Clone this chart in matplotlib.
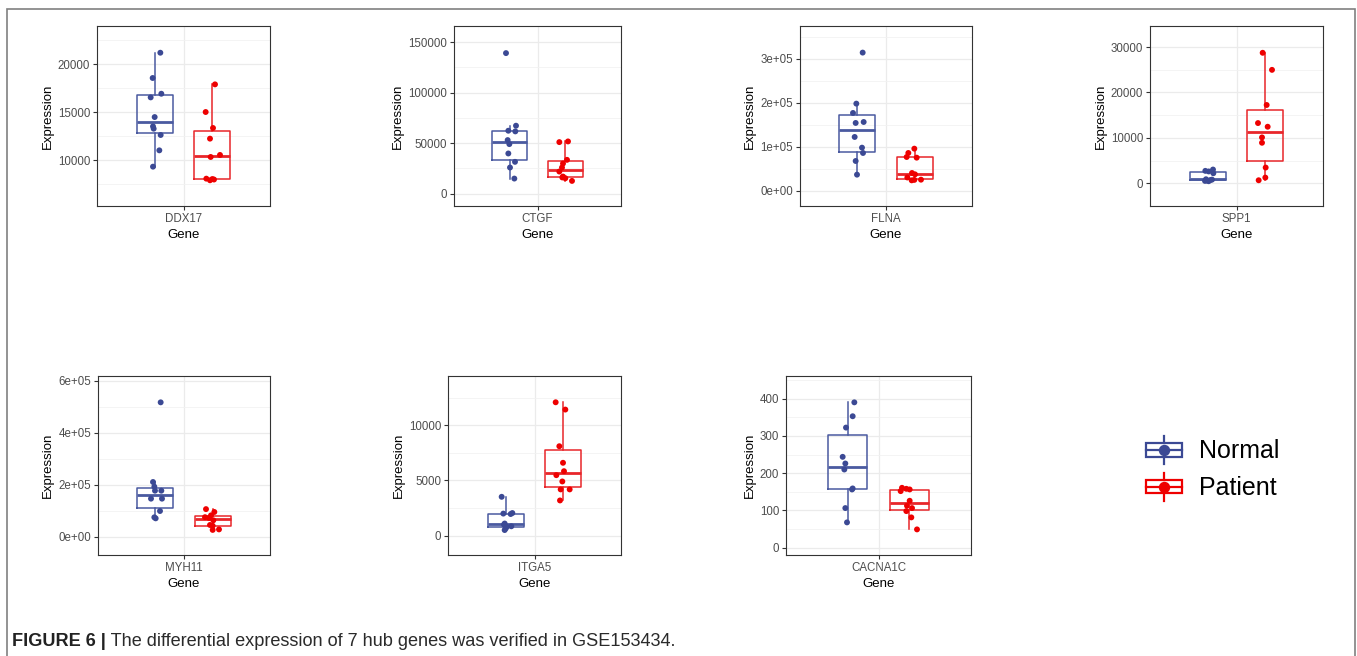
"""
Box plots of 7 hub genes (Normal vs Patient) in GSE153434
"""
import matplotlib
matplotlib.use('Agg')
import matplotlib.pyplot as plt
from matplotlib.patches import Rectangle, Patch
from matplotlib.lines import Line2D
from matplotlib.legend_handler import HandlerBase
from matplotlib.ticker import MultipleLocator, FuncFormatter

genes = ['DDX17', 'CTGF', 'FLNA', 'SPP1', 'MYH11', 'ITGA5', 'CACNA1C']

# expression values (one list per gene and group)
ddx17_normal = [21215, 18580, 16940, 16560, 14510, 13540, 13300, 12640, 11040, 9340]
ddx17_patient = [17917, 15035, 13370, 12260, 10560, 10350, 8090, 8000, 8050, 7920]
ctgf_normal = [139070, 67220, 62250, 61590, 52980, 49010, 39735, 31460, 25830, 14900]
ctgf_patient = [50990, 51660, 33440, 29800, 25830, 21850, 16890, 16000, 15230, 12580]
flna_normal = [313600, 197700, 176500, 153800, 156000, 122000, 97700, 85600, 67400, 36400]
flna_patient = [95450, 85600, 76500, 75000, 40150, 37100, 30000, 25000, 23500, 24500]
spp1_normal = [3020, 2730, 2600, 2210, 880, 800, 700, 600, 520, 450]
spp1_patient = [28740, 24980, 17240, 13260, 12450, 10100, 8920, 3460, 1250, 660]
myh11_normal = [516700, 210300, 192300, 176900, 176900, 146200, 146200, 98700, 74400, 70500]
myh11_patient = [106000, 95000, 82000, 75000, 72000, 63000, 45000, 42000, 28000, 26000]
itga5_normal = [3520, 2050, 2000, 1960, 1100, 1000, 850, 800, 650, 510]
itga5_patient = [12080, 11420, 8100, 6600, 5840, 5480, 4910, 4190, 4190, 3190]
cacna1c_normal = [390, 352.7, 322.3, 243.8, 225.9, 209.8, 159, 156.3, 106.3, 67.9]
cacna1c_patient = [160.7, 158, 156.3, 151.8, 125.9, 112.5, 106.3, 98.2, 81.3, 49.1]

normal = [ddx17_normal, ctgf_normal, flna_normal, spp1_normal,
          myh11_normal, itga5_normal, cacna1c_normal]
patient = [ddx17_patient, ctgf_patient, flna_patient, spp1_patient,
           myh11_patient, itga5_patient, cacna1c_patient]

# axis settings per panel
ylims = [(5240, 24000), (-12250, 165900), (-34800, 374000), (-5010, 34640),
         (-70500, 618000), (-1750, 14460), (-19.6, 460.7)]
ysteps = [5000, 50000, 100000, 10000, 200000, 5000, 100]
sci = [False, False, True, False, True, False, False]

# jitter (in 3x-zoomed pixels away from box centre, as seen in the figure)
jit_n = [[17, -6, 20, -12, 0, -5, -3, 18, 14, -5],
         [-11, 19, -4, 17, -6, -1, -4, 16, 1, 14],
         [16, -3, -13, -5, 19, -8, 14, 17, -5, -1],
         [16, -7, 3, 17, -5, 13, 8, -2, -8, 3],
         [16, -7, -3, -1, 18, -13, 20, 14, -3, 1],
         [-12, 20, -7, 15, -3, -5, 17, 3, 0, -3],
         [20, 15, -5, -15, -7, -10, 15, 13, -7, -2]]
jit_p = [[8, -20, 2, -7, 23, -5, -18, 5, 0, -7],
         [-18, 8, 5, -7, -10, -18, -7, -9, 0, 20],
         [-1, -19, -24, 6, -8, 1, -22, 19, -9, -1],
         [-8, 20, 4, -22, 7, -10, -10, 1, 0, -20],
         [-20, 5, -5, -23, -11, 2, -8, 0, 19, 0],
         [-23, 6, -12, -1, 2, -21, -3, -8, 19, -10],
         [-22, -9, 1, -26, 1, -7, 8, -9, 6, 23]]

# panel rectangles in pixels (left, top, right, bottom)
W, H = 1357, 656
rects_px = [(97, 26, 270, 206), (454, 26, 621, 206), (800, 26, 972, 206),
            (1150, 26, 1323, 206), (98, 376, 270, 555), (448, 376, 621, 555),
            (786, 376, 971, 555)]

c_normal = '#3B4994'
c_patient = '#EE0000'
c_normal_box = '#4A5AA0'
c_patient_box = '#E8262A'

plt.rcParams['font.family'] = ['Liberation Sans', 'DejaVu Sans']

fig = plt.figure(figsize=(W / 100, H / 100), dpi=100)

for i, gene in enumerate(genes):
    l, t, r, b = rects_px[i]
    ax = fig.add_axes([l / W, 1 - b / H, (r - l) / W, (b - t) / H])
    zoom_px_per_unit = 3 * (r - l) / 1.2

    for vals, jit, pos, col, bcol in [(normal[i], jit_n[i], 0.8, c_normal, c_normal_box),
                                       (patient[i], jit_p[i], 1.2, c_patient, c_patient_box)]:
        ax.boxplot([vals], positions=[pos], widths=0.25, showfliers=False,
                   showcaps=False, whis=1.5,
                   boxprops=dict(color=bcol, linewidth=1.1),
                   whiskerprops=dict(color=bcol, linewidth=1.1),
                   medianprops=dict(color=bcol, linewidth=2.0),
                   zorder=2)
        xs = [pos + j / zoom_px_per_unit for j in jit]
        ax.scatter(xs, vals, s=18, color=col, edgecolors='none', zorder=3)

    ax.set_xlim(0.4, 1.6)
    ax.set_ylim(*ylims[i])
    ax.set_xticks([1])
    ax.set_xticklabels([gene])
    ax.yaxis.set_major_locator(MultipleLocator(ysteps[i]))
    ax.yaxis.set_minor_locator(MultipleLocator(ysteps[i] / 2))
    if sci[i]:
        ax.yaxis.set_major_formatter(FuncFormatter(lambda v, p: '%.0e' % v))
    else:
        ax.yaxis.set_major_formatter(FuncFormatter(lambda v, p: '%d' % round(v)))

    ax.grid(True, which='major', color='#EBEBEB', linewidth=0.9, zorder=0)
    ax.grid(True, which='minor', axis='y', color='#F2F2F2', linewidth=0.6, zorder=0)
    ax.set_axisbelow(True)
    ax.tick_params(which='minor', length=0)
    ax.tick_params(which='major', length=3, width=0.8, color='#333333',
                   labelsize=8.3, labelcolor='#4D4D4D', pad=2)
    for s in ax.spines.values():
        s.set_color('#333333')
        s.set_linewidth(0.8)
    ax.set_xlabel('Gene', fontsize=9.5, labelpad=3)
    ax.set_ylabel('Expression', fontsize=9.5, labelpad=3)


class BoxKey(HandlerBase):
    def create_artists(self, legend, orig_handle, xdescent, ydescent,
                       width, height, fontsize, trans):
        col = orig_handle.get_edgecolor()
        x0, y0 = -xdescent, -ydescent
        xc = x0 + width / 2
        yc = y0 + height / 2
        bh = height * 0.47
        box = Rectangle((x0, yc - bh / 2), width, bh, facecolor='white',
                        edgecolor=col, linewidth=1.6, transform=trans)
        mid = Line2D([x0, x0 + width], [yc, yc], color=col, linewidth=1.6, transform=trans)
        up = Line2D([xc, xc], [yc + bh / 2, y0 + height], color=col, linewidth=1.6, transform=trans)
        dn = Line2D([xc, xc], [y0, yc - bh / 2], color=col, linewidth=1.6, transform=trans)
        dot = Line2D([xc], [yc], marker='o', markersize=7.2, color=col,
                     linestyle='none', transform=trans)
        return [box, mid, up, dn, dot]


handles = [Patch(edgecolor=c_normal, facecolor='white'),
           Patch(edgecolor=c_patient, facecolor='white')]
fig.legend(handles, ['Normal', 'Patient'], handler_map={Patch: BoxKey()},
           loc='upper left', bbox_to_anchor=(1146 / W, 1 - 436 / H),
           frameon=False, fontsize=18, handlelength=1.44, handleheight=1.35,
           handletextpad=0.68, labelspacing=0.35, borderpad=0, borderaxespad=0)

# outer frame of the figure panel
fig.patches.append(Rectangle((7 / W, -0.05), 1348 / W, 1.05 - 9 / H, transform=fig.transFigure,
                             fill=False, edgecolor='#808080', linewidth=1.2))

t1 = fig.text(12 / W, 1 - 646 / H, 'FIGURE 6 |', fontsize=13.1, fontweight='bold',
              color='#222222', va='baseline')
plt.annotate(' The differential expression of 7 hub genes was verified in GSE153434.',
             xy=(1, 0), xycoords=t1, va='bottom', fontsize=13.1, color='#2A2A2A',
             annotation_clip=False)

plt.savefig('out.png', dpi=100)
plt.close()
